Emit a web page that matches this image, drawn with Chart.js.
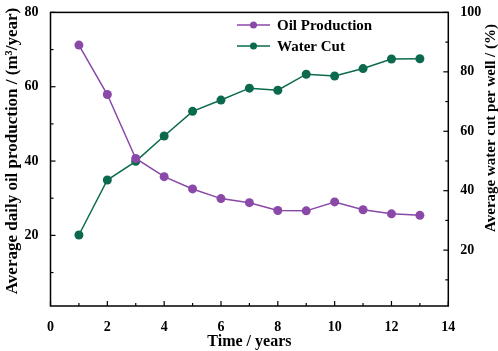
<!DOCTYPE html>
<html>
<head>
<meta charset="utf-8">
<script src="https://cdn.jsdelivr.net/npm/chart.js@4"></script>
<style>
  html, body { margin: 0; padding: 0; background: #fff; }
  #wrap { width: 498px; height: 351px; }
</style>
</head>
<body>
<div id="wrap"><canvas id="chart" width="498" height="351"></canvas></div>
<script>
// values
const years = [1, 2, 3, 4, 5, 6, 7, 8, 9, 10, 11, 12, 13];
const oilProduction = [71.2, 57.9, 40.7, 35.8, 32.5, 29.9, 28.8, 26.7, 26.6, 29.0, 26.9, 25.8, 25.4];
const waterCut = [25.1, 43.6, 49.9, 58.4, 66.7, 70.5, 74.5, 73.8, 79.2, 78.6, 81.1, 84.3, 84.4];
const xTicks = [0, 1, 2, 3, 4, 5, 6, 7, 8, 9, 10, 11, 12, 13, 14];
const leftTicks = [10, 20, 30, 40, 50, 60, 70, 80];
const rightTicks = [10, 20, 30, 40, 50, 60, 70, 80, 90, 100];

const PURPLE = '#8a48a8';
const GREEN = '#0b6a4e';
const FONT = '"Liberation Serif", "Times New Roman", serif';

const ctx = document.getElementById('chart').getContext('2d');

// box, inward ticks, legend, right title
const decor = {
    id: 'decor',
    afterDraw(chart) {
        const c = chart.ctx;
        const a = chart.chartArea;
        c.save();
        c.strokeStyle = '#000';
        c.lineWidth = 1.5;
        c.strokeRect(a.left, a.top, a.right - a.left, a.bottom - a.top);

        c.lineWidth = 1.2;
        const xs = chart.scales.x;
        xTicks.forEach(v => {
            const px = xs.getPixelForValue(v);
            const len = v % 2 === 0 ? 5 : 3;
            c.beginPath(); c.moveTo(px, a.bottom); c.lineTo(px, a.bottom - len); c.stroke();
        });
        const ys = chart.scales.y;
        leftTicks.forEach(v => {
            const py = ys.getPixelForValue(v);
            const len = v % 20 === 0 ? 5 : 3;
            c.beginPath(); c.moveTo(a.left, py); c.lineTo(a.left + len, py); c.stroke();
        });
        const y1 = chart.scales.y1;
        rightTicks.forEach(v => {
            const py = y1.getPixelForValue(v);
            const len = v % 20 === 0 ? 5 : 3;
            c.beginPath(); c.moveTo(a.right, py); c.lineTo(a.right - len, py); c.stroke();
        });

        // legend
        c.font = 'bold 15px ' + FONT;
        c.textBaseline = 'middle';
        c.textAlign = 'left';
        chart.data.datasets.forEach((ds, i) => {
            const y = 25 + i * 21;
            c.strokeStyle = ds.borderColor;
            c.lineWidth = 1.5;
            c.beginPath(); c.moveTo(237, y); c.lineTo(270, y); c.stroke();
            c.fillStyle = ds.backgroundColor;
            c.beginPath(); c.arc(253.5, y, 3.5, 0, Math.PI * 2); c.fill();
            c.fillStyle = '#000';
            c.fillText(ds.label, 277, y + 1);
        });

        // left axis title
        c.save();
        c.translate(13, 151);
        c.rotate(-Math.PI / 2);
        c.textAlign = 'center';
        c.font = 'bold 17px ' + FONT;
        c.fillText('Average daily oil production / (m³/year)', 0, 0);
        c.restore();

        // right axis title, reading bottom to top
        c.translate(491, 128);
        c.rotate(-Math.PI / 2);
        c.textAlign = 'center';
        c.font = 'bold 15px ' + FONT;
        c.fillText('Average water cut per well / (%)', 0, 0);
        c.restore();
    }
};

new Chart(ctx, {
    type: 'line',
    data: {
        datasets: [
            {
                label: 'Oil Production',
                data: years.map((x, i) => ({ x, y: oilProduction[i] })),
                borderColor: PURPLE,
                backgroundColor: PURPLE,
                borderWidth: 1.5,
                pointRadius: 4.5,
                pointBorderWidth: 0,
                yAxisID: 'y',
                tension: 0
            },
            {
                label: 'Water Cut',
                data: years.map((x, i) => ({ x, y: waterCut[i] })),
                borderColor: GREEN,
                backgroundColor: GREEN,
                borderWidth: 1.5,
                pointRadius: 4.5,
                pointBorderWidth: 0,
                yAxisID: 'y1',
                tension: 0
            }
        ]
    },
    options: {
        responsive: false,
        animation: false,
        layout: { padding: { top: 7, right: 0, left: 0, bottom: 0 } },
        plugins: {
            legend: { display: false },
            tooltip: { enabled: false }
        },
        scales: {
            x: {
                type: 'linear',
                min: 0, max: 14,
                afterBuildTicks: s => { s.ticks = xTicks.map(v => ({ value: v })); },
                afterFit: s => { s.height = 45; },
                grid: { display: false },
                border: { display: false },
                ticks: {
                    autoSkip: false, maxRotation: 0, padding: 5,
                    color: '#000',
                    font: { family: FONT, size: 14, weight: 'bold' },
                    callback: v => (v % 2 === 0 ? v : '')
                },
                title: {
                    display: true, text: 'Time / years', color: '#000',
                    font: { family: FONT, size: 16, weight: 'bold' },
                    padding: { top: 4, bottom: 0 }
                }
            },
            y: {
                position: 'left',
                min: 1, max: 80,
                afterBuildTicks: s => { s.ticks = leftTicks.map(v => ({ value: v })); },
                afterFit: s => { s.width = 50.5; },
                grid: { display: false },
                border: { display: false },
                ticks: {
                    autoSkip: false, padding: 4,
                    color: '#000',
                    font: { family: FONT, size: 14, weight: 'bold' },
                    callback: v => (v % 20 === 0 ? v : '')
                }
            },
            y1: {
                position: 'right',
                min: 1.2, max: 100,
                afterBuildTicks: s => { s.ticks = rightTicks.map(v => ({ value: v })); },
                afterFit: s => { s.width = 49.7; },
                grid: { display: false },
                border: { display: false },
                ticks: {
                    autoSkip: false, padding: 4,
                    color: '#000',
                    font: { family: FONT, size: 14, weight: 'bold' },
                    callback: v => (v % 20 === 0 ? v : '')
                }
            }
        }
    },
    plugins: [decor]
});
</script>
</body>
</html>
